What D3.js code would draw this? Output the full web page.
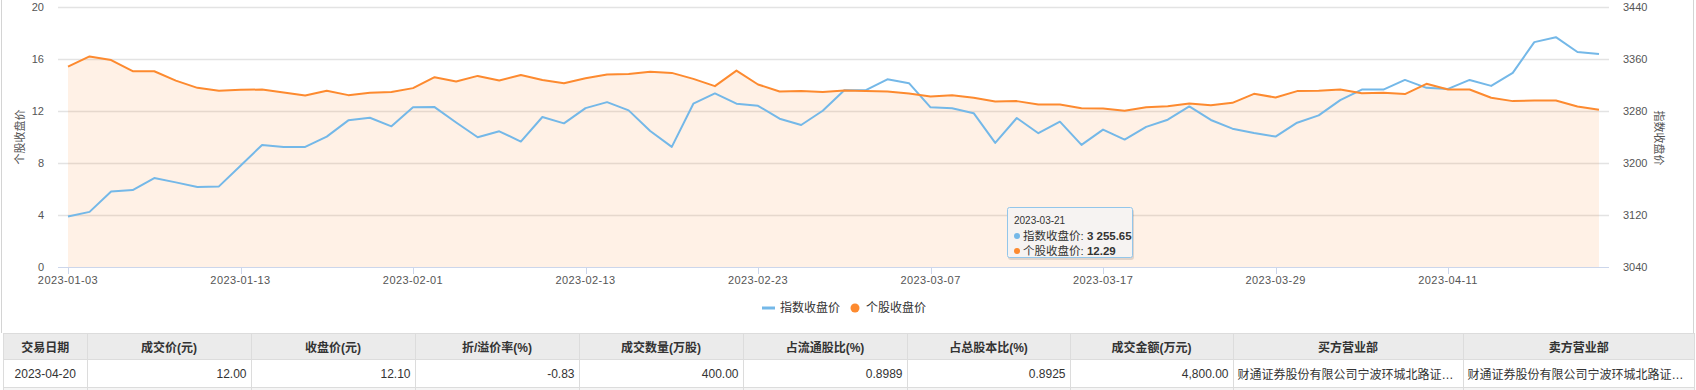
<!DOCTYPE html>
<meta charset="utf-8">
<script src="https://cdn.jsdelivr.net/npm/d3@7/dist/d3.min.js"></script>
<style>
  body { margin: 0; background: #fff; font-family: "Liberation Sans", "Noto Sans CJK SC", sans-serif; }
  #wrap { position: relative; width: 1696px; height: 390px; overflow: hidden; }
  svg { position: absolute; left: 0; top: 0; }
  table { position: absolute; left: 3px; top: 333px; width: 1691px; border-collapse: collapse; table-layout: fixed; font-size: 12px; color: #333; }
  th, td { border: 1px solid #dcdcdc; padding: 0 4px; white-space: nowrap; overflow: hidden; text-overflow: ellipsis; box-sizing: border-box; }
  th { background: #ebebeb; height: 26px; font-weight: bold; text-align: center; }
  td { height: 28px; text-align: right; }
  tr.blank td { background: #f5f5f5; height: 20px; }
</style>
<body>
<div id="wrap"></div>
<script>

var width = 1696
var height = 390

// trading days
var dates = [
  "2023-01-03","2023-01-04","2023-01-05","2023-01-06","2023-01-09","2023-01-10","2023-01-11","2023-01-12","2023-01-13","2023-01-16",
  "2023-01-17","2023-01-18","2023-01-19","2023-01-20","2023-01-30","2023-01-31","2023-02-01","2023-02-02","2023-02-03","2023-02-06",
  "2023-02-07","2023-02-08","2023-02-09","2023-02-10","2023-02-13","2023-02-14","2023-02-15","2023-02-16","2023-02-17","2023-02-20",
  "2023-02-21","2023-02-22","2023-02-23","2023-02-24","2023-02-27","2023-02-28","2023-03-01","2023-03-02","2023-03-03","2023-03-06",
  "2023-03-07","2023-03-08","2023-03-09","2023-03-10","2023-03-13","2023-03-14","2023-03-15","2023-03-16","2023-03-17","2023-03-20",
  "2023-03-21","2023-03-22","2023-03-23","2023-03-24","2023-03-27","2023-03-28","2023-03-29","2023-03-30","2023-03-31","2023-04-03",
  "2023-04-04","2023-04-06","2023-04-07","2023-04-10","2023-04-11","2023-04-12","2023-04-13","2023-04-14","2023-04-17","2023-04-18",
  "2023-04-19","2023-04-20"
]

// 指数收盘价 (right axis)
var indexClose = [
  3117.6, 3124.8, 3156.0, 3158.4, 3176.8, 3170.2, 3163.0, 3164.0, 3195.8, 3227.8,
  3224.8, 3224.8, 3240.6, 3265.6, 3269.6, 3256.4, 3285.6, 3286.0, 3262.4, 3239.6,
  3248.8, 3233.0, 3270.8, 3261.0, 3284.4, 3293.6, 3281.0, 3249.2, 3224.8, 3291.2,
  3307.0, 3291.2, 3288.0, 3268.2, 3258.4, 3280.4, 3312.0, 3312.0, 3328.8, 3322.8,
  3285.6, 3284.2, 3276.6, 3231.0, 3269.2, 3245.8, 3263.6, 3227.8, 3251.4, 3236.0,
  3255.65, 3266.6, 3287.0, 3266.2, 3252.8, 3246.2, 3240.6, 3262.0, 3273.2, 3296.8,
  3313.0, 3313.0, 3327.8, 3315.6, 3314.0, 3327.8, 3318.6, 3338.6, 3386.0, 3393.6,
  3370.8, 3367.6
]

// 个股收盘价 (left axis)
var stockClose = [
  15.41, 16.20, 15.92, 15.06, 15.06, 14.34, 13.78, 13.55, 13.63, 13.65,
  13.42, 13.19, 13.55, 13.22, 13.40, 13.47, 13.76, 14.60, 14.27, 14.70,
  14.34, 14.77, 14.39, 14.14, 14.52, 14.80, 14.85, 15.01, 14.93, 14.47,
  13.91, 15.11, 14.04, 13.50, 13.53, 13.47, 13.58, 13.53, 13.50, 13.35,
  13.12, 13.22, 13.02, 12.73, 12.76, 12.50, 12.50, 12.22, 12.19, 12.02,
  12.29, 12.37, 12.58, 12.45, 12.63, 13.32, 13.04, 13.53, 13.55, 13.65,
  13.37, 13.40, 13.30, 14.09, 13.65, 13.65, 13.02, 12.76, 12.81, 12.81,
  12.35, 12.10
]

var leftTicks = [0, 4, 8, 12, 16, 20]
var rightTicks = [3040, 3120, 3200, 3280, 3360, 3440]
var seriesNames = ["指数收盘价", "个股收盘价"]

var tooltipIndex = 50

var tableHeaders = ["交易日期", "成交价(元)", "收盘价(元)", "折/溢价率(%)", "成交数量(万股)", "占流通股比(%)", "占总股本比(%)", "成交金额(万元)", "买方营业部", "卖方营业部"]
var tableRow = ["2023-04-20", "12.00", "12.10", "-0.83", "400.00", "0.8989", "0.8925", "4,800.00", "财通证券股份有限公司宁波环城北路证券营业部", "财通证券股份有限公司宁波环城北路证券营业部"]
var colWidths = [83.5, 164, 164, 164, 164, 164, 163, 163, 230, 231.5]

var blue = "#74b8e8"
var orange = "#fd8a2f"

var x = d3.scalePoint().domain(dates).range([68, 1599])
var yL = d3.scaleLinear().domain([0, 20]).range([267, 7])
var yR = d3.scaleLinear().domain([3040, 3440]).range([267, 7])

var svg = d3.select("#wrap").append("svg")
            .attr("width", width)
            .attr("height", height)
            .style("font-family", "'Liberation Sans', 'Noto Sans CJK SC', sans-serif")

// frame
svg.append("line").attr("x1", 1.5).attr("x2", 1.5).attr("y1", 0).attr("y2", 333).style("stroke", "#d4d4d4")
svg.append("line").attr("x1", 1693.5).attr("x2", 1693.5).attr("y1", 0).attr("y2", 333).style("stroke", "#d4d4d4")

// grid
svg.append("g").selectAll("line")
   .data(leftTicks.slice(1))
   .enter().append("line")
   .attr("x1", 58).attr("x2", 1609)
   .attr("y1", d => Math.round(yL(d)) + 0.5)
   .attr("y2", d => Math.round(yL(d)) + 0.5)
   .style("stroke", "#e3e3e3")
   .style("stroke-width", 1.3)

// area of stock series
var area = d3.area()
             .x((d, i) => x(dates[i]))
             .y0(yL(0))
             .y1(d => yL(d))
svg.append("path")
   .datum(stockClose)
   .attr("d", area)
   .style("fill", "rgba(253,140,48,0.12)")

// x axis
svg.append("line").attr("x1", 58).attr("x2", 1609).attr("y1", 267.5).attr("y2", 267.5)
   .style("stroke", "#ccd6eb")
var xt = svg.append("g")
var labelDates = dates.filter((d, i) => i % 8 == 0)
xt.selectAll("line").data(labelDates).enter().append("line")
  .attr("x1", d => Math.round(x(d)) + 0.5).attr("x2", d => Math.round(x(d)) + 0.5)
  .attr("y1", 267).attr("y2", 274)
  .style("stroke", "#ccd6eb")
xt.selectAll("text").data(labelDates).enter().append("text")
  .attr("x", d => x(d)).attr("y", 284)
  .style("text-anchor", "middle")
  .style("font-size", "11px")
  .style("fill", "#555")
  .style("letter-spacing", "0.4px")
  .text(d => d)

// y axes labels
svg.append("g").selectAll("text").data(leftTicks).enter().append("text")
   .attr("x", 44).attr("y", d => yL(d) + 4)
   .style("text-anchor", "end").style("font-size", "11px").style("fill", "#555")
   .text(d => d)
svg.append("g").selectAll("text").data(rightTicks).enter().append("text")
   .attr("x", 1623).attr("y", d => yR(d) + 4)
   .style("text-anchor", "start").style("font-size", "11px").style("fill", "#555")
   .text(d => d)

svg.append("text")
   .attr("transform", "translate(24,137) rotate(-90)")
   .style("text-anchor", "middle").style("font-size", "11px").style("fill", "#555")
   .text(seriesNames[1])
svg.append("text")
   .attr("transform", "translate(1655,138) rotate(90)")
   .style("text-anchor", "middle").style("font-size", "11px").style("fill", "#555")
   .text(seriesNames[0])

// lines
var lineR = d3.line().x((d, i) => x(dates[i])).y(d => yR(d))
var lineL = d3.line().x((d, i) => x(dates[i])).y(d => yL(d))
svg.append("path").datum(indexClose).attr("d", lineR)
   .style("fill", "none").style("stroke", blue).style("stroke-width", 2).style("stroke-linejoin", "round")
svg.append("path").datum(stockClose).attr("d", lineL)
   .style("fill", "none").style("stroke", orange).style("stroke-width", 2).style("stroke-linejoin", "round")

// legend
var lg = svg.append("g")
lg.append("line").attr("x1", 762).attr("x2", 775).attr("y1", 308).attr("y2", 308)
  .style("stroke", blue).style("stroke-width", 3)
lg.append("text").attr("x", 780).attr("y", 312).style("font-size", "12px").style("fill", "#333").text(seriesNames[0])
lg.append("circle").attr("cx", 855).attr("cy", 308).attr("r", 4.5).style("fill", orange)
lg.append("text").attr("x", 866).attr("y", 312).style("font-size", "12px").style("fill", "#333").text(seriesNames[1])

// tooltip
var tip = svg.append("g").attr("transform", "translate(1007,207)")
tip.append("rect").attr("x", 1).attr("y", 2).attr("width", 126).attr("height", 51)
   .style("fill", "rgba(0,0,0,0.12)").attr("rx", 3)
tip.append("rect").attr("x", 0.5).attr("y", 0.5).attr("width", 125).attr("height", 50).attr("rx", 2)
   .style("fill", "#f6f3f2").style("stroke", "#93c6ea")
tip.append("text").attr("x", 7).attr("y", 17).style("font-size", "10px").style("fill", "#333")
   .text(dates[tooltipIndex])
tip.append("circle").attr("cx", 10).attr("cy", 29).attr("r", 3).style("fill", blue)
var t1 = tip.append("text").attr("x", 16).attr("y", 33).style("font-size", "11.5px").style("fill", "#333")
t1.append("tspan").text(seriesNames[0] + ": ")
t1.append("tspan").style("font-weight", "bold")
  .text(d3.format(",.2f")(indexClose[tooltipIndex]).replace(",", " "))
tip.append("circle").attr("cx", 10).attr("cy", 44).attr("r", 3).style("fill", orange)
var t2 = tip.append("text").attr("x", 16).attr("y", 48).style("font-size", "11.5px").style("fill", "#333")
t2.append("tspan").text(seriesNames[1] + ": ")
t2.append("tspan").style("font-weight", "bold").text(stockClose[tooltipIndex].toFixed(2))

// table
var table = d3.select("#wrap").append("table")
table.append("colgroup").selectAll("col").data(colWidths).enter().append("col")
     .attr("width", d => d)
     .style("width", d => d + "px")
table.append("tr").selectAll("th").data(tableHeaders).enter().append("th")
     .style("width", (d, i) => colWidths[i] + "px")
     .text(d => d)
table.append("tr").selectAll("td").data(tableRow).enter().append("td")
     .style("text-align", (d, i) => i == 0 ? "center" : (i >= 8 ? "left" : "right"))
     .text(d => d)
table.append("tr").attr("class", "blank").selectAll("td").data(tableRow).enter().append("td")

</script>
</body>
